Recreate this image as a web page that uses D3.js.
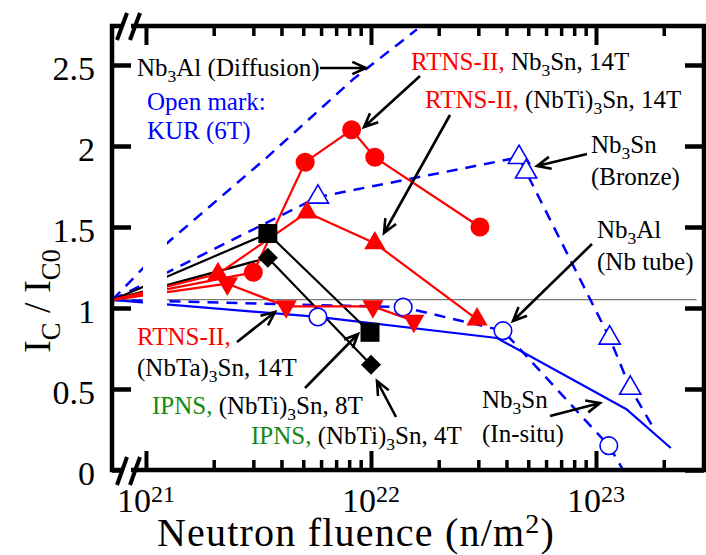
<!DOCTYPE html>
<html><head><meta charset="utf-8">
<script src="https://cdn.jsdelivr.net/npm/d3@7"></script>
<style>body{margin:0;background:#fff} svg{display:block}</style>
</head><body>
<svg id="chart" width="706" height="555"></svg>
<script>
// Unirradiated reference: every series starts here, at the left edge of the broken axis
const zeroFluence = 7.1e20;
const zeroIc = 1.05;
const refLevel = 1.052;
const refEnd = 2.8e23;

// RTNS-II, Nb3Sn, 14T (filled circles)
const rtnsNb3SnFluence = [3.0e21, 5.1e21, 8.2e21, 1.04e22, 3.05e22];
const rtnsNb3SnIc = [1.22, 1.90, 2.10, 1.93, 1.50];
// RTNS-II, (NbTi)3Sn, 14T (filled up-triangles)
const rtnsNbTiFluence = [2.09e21, 5.2e21, 1.04e22, 2.96e22];
const rtnsNbTiIc = [1.21, 1.59, 1.40, 0.93];
// RTNS-II, (NbTa)3Sn, 14T (filled down-triangles)
const rtnsNbTaFluence = [2.3e21, 4.2e21, 1.02e22, 1.55e22];
const rtnsNbTaIc = [1.15, 1.01, 1.01, 0.92];
// IPNS, (NbTi)3Sn, 8T (squares) and 4T (diamonds)
const ipns8Fluence = [3.48e21, 9.9e21];
const ipns8Ic = [1.46, 0.85];
const ipns4Fluence = [3.48e21, 1.0e22];
const ipns4Ic = [1.31, 0.65];
// KUR, Nb3Al (Nb tube): open circles on a dashed line
const kurTubeFluence = [1.39e22, 3.86e22, 1.14e23];
const kurTubeIc = [1.005, 0.86, 0.15];
const kurTubeTailFluence = [1.36e23];
const kurTubeTailIc = [-0.03];
// KUR, Nb3Sn (Bronze): open triangles on a dashed line
const kurBronzeFluence = [5.81e21, 4.55e22, 4.89e22, 1.15e23, 1.42e23];
const kurBronzeIc = [1.685, 1.93, 1.84, 0.815, 0.505];
const kurBronzeTailFluence = [1.8e23];
const kurBronzeTailIc = [0.26];
// KUR, Nb3Sn (In-situ): solid line, one open circle
const inSituFluence = [5.81e21, 3.63e22, 1.36e23, 2.15e23];
const inSituIc = [0.945, 0.815, 0.377, 0.136];
const inSituMarked = [true, false, false, false];
// KUR, Nb3Al (Diffusion): dashed line only
const diffusionFluence = [1.24e21, 3.45e21, 8.3e21, 1.6e22];
const diffusionIc = [1.40, 1.93, 2.41, 2.72];

const yTicks = [0, 0.5, 1, 1.5, 2, 2.5];
const yTickLabels = ["0", "0.5", "1", "1.5", "2", "2.5"];
const xDecades = [1e21, 1e22, 1e23];
const xDecadeExp = ["21", "22", "23"];

const RED = "#ff0000", BLUE = "#0000ff", GREEN = "#138a13", FONT = "Liberation Serif, Times New Roman, serif";

const svg = d3.select("#chart");
const L = 112, R = 704, T = 26, B = 470;
const x = d3.scaleLog().domain([Math.pow(10, 20.849), Math.pow(10, 23.48)]).range([L, R]);
const y = d3.scaleLinear().domain([0, (B - T) / 162]).range([B, T]);

svg.append("clipPath").attr("id", "plotclip")
  .append("rect").attr("x", L).attr("y", T).attr("width", R - L).attr("height", B - T);

const minorTicks = [];
for (let e = 21; e <= 23; e++) for (let m = 2; m <= 9; m++) {
  const v = m * Math.pow(10, e);
  if (x(v) < R - 2) minorTicks.push(v);
}

// inward ticks on all four sides
function styleAxis(g) {
  g.select(".domain").remove();
  g.selectAll("line").attr("stroke", "#000");
}
svg.append("g").attr("transform", `translate(0,${B})`)
  .call(d3.axisBottom(x).tickValues(xDecades).tickSize(-19).tickFormat(""))
  .call(styleAxis).selectAll("line").attr("stroke-width", 4);
svg.append("g").attr("transform", `translate(0,${B})`)
  .call(d3.axisBottom(x).tickValues(minorTicks).tickSize(-10).tickFormat(""))
  .call(styleAxis).selectAll("line").attr("stroke-width", 3.5);
svg.append("g").attr("transform", `translate(0,${T})`)
  .call(d3.axisTop(x).tickValues(xDecades).tickSize(-19).tickFormat(""))
  .call(styleAxis).selectAll("line").attr("stroke-width", 4);
svg.append("g").attr("transform", `translate(0,${T})`)
  .call(d3.axisTop(x).tickValues(minorTicks).tickSize(-10).tickFormat(""))
  .call(styleAxis).selectAll("line").attr("stroke-width", 3.5);
const yAxisG = svg.append("g").attr("transform", `translate(${L},0)`)
  .call(d3.axisLeft(y).tickValues(yTicks).tickSize(-19).tickPadding(17)
    .tickFormat((d, i) => yTickLabels[i]))
  .call(styleAxis);
yAxisG.selectAll("line").attr("stroke-width", 4.5);
yAxisG.selectAll("text").attr("font-family", FONT).attr("font-size", 34).attr("fill", "#000").attr("dy", "0.44em");
svg.append("g").attr("transform", `translate(${R},0)`)
  .call(d3.axisRight(y).tickValues(yTicks).tickSize(-19).tickFormat(""))
  .call(styleAxis).selectAll("line").attr("stroke-width", 4.5);

// x decade labels 10^n
xDecades.forEach((v, i) => {
  const t = svg.append("text").attr("x", x(v)).attr("y", 512).attr("text-anchor", "middle")
    .attr("font-family", FONT).attr("font-size", 34).attr("fill", "#000");
  t.append("tspan").text("10");
  t.append("tspan").attr("font-size", 24).attr("dy", -10).text(xDecadeExp[i]);
});

// data layer
const plot = svg.append("g").attr("clip-path", "url(#plotclip)");
const line = d3.line().x(d => x(d[0])).y(d => y(d[1]));
const withZero = (fs, vs) => [[zeroFluence, zeroIc]].concat(fs.map((f, i) => [f, vs[i]]));
const pts = (fs, vs) => fs.map((f, i) => [f, vs[i]]);

function path(data, color, width, dash) {
  plot.append("path").attr("d", line(data)).attr("fill", "none")
    .attr("stroke", color).attr("stroke-width", width)
    .attr("stroke-dasharray", dash || null).attr("stroke-linejoin", "round");
}

// reference level of the unirradiated samples
path([[zeroFluence, refLevel], [refEnd, refLevel]], "#777", 1.4);

path(withZero(inSituFluence, inSituIc), BLUE, 2.2);
path(withZero(kurTubeFluence, kurTubeIc).concat(pts(kurTubeTailFluence, kurTubeTailIc)), BLUE, 2.5, "11,8");
path(withZero(kurBronzeFluence, kurBronzeIc).concat(pts(kurBronzeTailFluence, kurBronzeTailIc)), BLUE, 2.5, "11,8");
path(withZero(diffusionFluence, diffusionIc), BLUE, 2.5, "11,8");
path(withZero(ipns8Fluence, ipns8Ic), "#000", 2.2);
path(withZero(ipns4Fluence, ipns4Ic), "#000", 2.2);
path(withZero(rtnsNbTaFluence, rtnsNbTaIc), RED, 2.2);
path(withZero(rtnsNbTiFluence, rtnsNbTiIc), RED, 2.2);
path(withZero(rtnsNb3SnFluence, rtnsNb3SnIc), RED, 2.2);

// axis break: blank strip between the zero-fluence edge and 10^21
svg.append("rect").attr("x", 143).attr("y", 228).attr("width", 24).attr("height", 88).attr("fill", "#fff");

const tri = d3.symbol().type(d3.symbolTriangle).size(195)();
const sq = d3.symbol().type(d3.symbolSquare).size(360)();
const dia = d3.symbol().type(d3.symbolSquare).size(200)();
function markers(data, shape, fill, stroke, sw, rot) {
  plot.selectAll(null).data(data).enter().append("path")
    .attr("d", shape)
    .attr("transform", d => `translate(${x(d[0])},${y(d[1])}) rotate(${rot || 0})`)
    .attr("fill", fill).attr("stroke", stroke || "none").attr("stroke-width", sw || 0);
}
function circles(data, r, fill, stroke, sw) {
  plot.selectAll(null).data(data).enter().append("circle")
    .attr("cx", d => x(d[0])).attr("cy", d => y(d[1])).attr("r", r)
    .attr("fill", fill).attr("stroke", stroke || "none").attr("stroke-width", sw || 0);
}
circles(pts(inSituFluence, inSituIc).filter((d, i) => inSituMarked[i]), 8.8, "#fff", BLUE, 1.6);
circles(pts(kurTubeFluence, kurTubeIc), 8.8, "#fff", BLUE, 1.6);
markers(pts(kurBronzeFluence, kurBronzeIc), tri, "#fff", BLUE, 1.6);
markers(pts(ipns8Fluence, ipns8Ic), sq, "#000");
markers(pts(ipns4Fluence, ipns4Ic), dia, "#000", null, 0, 45);
markers(pts(rtnsNbTaFluence, rtnsNbTaIc), tri, RED, null, 0, 180);
markers(pts(rtnsNbTiFluence, rtnsNbTiIc), tri, RED);
circles(pts(rtnsNb3SnFluence, rtnsNb3SnIc), 9.5, RED);

// frame
svg.append("rect").attr("x", L).attr("y", T).attr("width", R - L).attr("height", B - T)
  .attr("fill", "none").attr("stroke", "#000").attr("stroke-width", 4.5);

// break marks on the x axis
[[T, 13, 40], [B, 457, 485]].forEach(([yy, y0, y1]) => {
  svg.append("rect").attr("x", 123).attr("y", yy - 4).attr("width", 8).attr("height", 8).attr("fill", "#fff");
  [117, 130].forEach(x0 => {
    svg.append("line").attr("x1", x0).attr("y1", y1).attr("x2", x0 + 10).attr("y2", y0)
      .attr("stroke", "#000").attr("stroke-width", 4);
  });
});

// rich text: segments [text, color, mode] where mode is "sub" or "sup"
function rich(xp, yp, segs, size, anchor) {
  const t = svg.append("text").attr("x", xp).attr("y", yp).attr("font-family", FONT)
    .attr("font-size", size).attr("text-anchor", anchor || "start");
  let shift = 0;
  segs.forEach(([s, c, mode]) => {
    const sp = t.append("tspan").text(s).attr("fill", c || "#000");
    let target = 0;
    if (mode === "sub") { sp.attr("font-size", size * 0.7); target = size * 0.25; }
    if (mode === "sup") { sp.attr("font-size", size * 0.7); target = -size * 0.33; }
    if (target !== shift) { sp.attr("dy", target - shift); shift = target; }
  });
  return t;
}
function arrow(x1, y1, x2, y2) {
  const a = Math.atan2(y2 - y1, x2 - x1), h = 15, w = 0.42;
  svg.append("path")
    .attr("d", `M${x1},${y1}L${x2},${y2}M${x2 - h * Math.cos(a - w)},${y2 - h * Math.sin(a - w)}L${x2},${y2}L${x2 - h * Math.cos(a + w)},${y2 - h * Math.sin(a + w)}`)
    .attr("fill", "none").attr("stroke", "#000").attr("stroke-width", 2.6).attr("stroke-linejoin", "miter");
}
const LS = 25;
rich(137, 76, [["Nb"], ["3", null, "sub"], ["Al (Diffusion)"]], LS);
arrow(320, 68, 366, 68);
rich(147, 110, [["Open mark:", BLUE]], LS);
rich(147, 139, [["KUR (6T)", BLUE]], LS);

rich(411, 70, [["RTNS-II, ", RED], ["Nb"], ["3", null, "sub"], ["Sn, 14T"]], LS);
arrow(420, 76, 364, 127);
rich(425, 108, [["RTNS-II, ", RED], ["(NbTi)"], ["3", null, "sub"], ["Sn, 14T"]], LS);
arrow(450, 115, 384, 233);

rich(591, 153, [["Nb"], ["3", null, "sub"], ["Sn"]], LS);
rich(591, 185, [["(Bronze)"]], LS);
arrow(587, 154, 537, 166);

rich(597, 238, [["Nb"], ["3", null, "sub"], ["Al"]], LS);
rich(597, 270, [["(Nb tube)"]], LS);
arrow(592, 244, 513, 321);

rich(137, 345, [["RTNS-II,", RED]], LS);
rich(137, 376, [["(NbTa)"], ["3", null, "sub"], ["Sn, 14T"]], LS);
arrow(237, 342, 275, 312);

rich(152, 414, [["IPNS, ", GREEN], ["(NbTi)"], ["3", null, "sub"], ["Sn, 8T"]], LS);
arrow(305, 388, 358, 334);
rich(251, 444, [["IPNS, ", GREEN], ["(NbTi)"], ["3", null, "sub"], ["Sn, 4T"]], LS);
arrow(396, 417, 377, 381);

rich(482, 408, [["Nb"], ["3", null, "sub"], ["Sn"]], LS);
rich(482, 442, [["(In-situ)"]], LS);
arrow(550, 416, 600, 403);

// axis titles
rich(356, 546, [["Neutron fluence (n/m"], ["2", null, "sup"], [")"]], 40, "middle")
  .attr("letter-spacing", 1.2);
rich(0, 0, [["I"], ["C", null, "sub"], [" / I"], ["C0", null, "sub"]], 38, "middle")
  .attr("transform", "translate(50,301) rotate(-90)");
</script>
</body></html>
